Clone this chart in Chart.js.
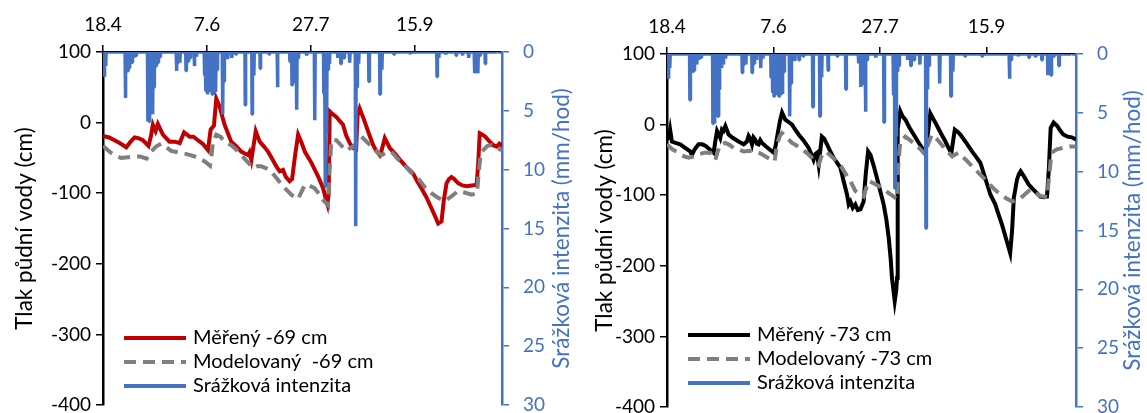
<!DOCTYPE html>
<html>
<head>
<meta charset="utf-8">
<script src="https://cdn.jsdelivr.net/npm/chart.js@4.4.0/dist/chart.umd.min.js"></script>
<style>
  body { margin: 0; background: #fff; }
  #wrap { position: relative; width: 1147px; height: 413px; }
  .panel { position: absolute; top: 0; height: 413px; }
</style>
</head>
<body>
<div id="wrap">
  <div class="panel" style="left:0;width:580px"><canvas id="chartLeft"></canvas></div>
  <div class="panel" style="left:580px;width:567px"><canvas id="chartRight"></canvas></div>
</div>
<script>
// days since 18.4., tick labels on the top axis
var xMax = 192;
var xTickDays = [0, 50, 100, 150];
var xTickLabels = ["18.4", "7.6", "27.7", "15.9"];

// precipitation intensity (mm/hod), same for both panels
var rainDays = [0.7, 1.3, 10.8, 12, 12.8, 14, 14.8, 16, 21.6, 22.3, 23.2, 23.9, 24.6, 25.6, 26.5, 27.5,
  35.4, 36.1, 37, 40, 41, 42, 44, 45, 48.9, 49.6, 50.3, 51, 51.8, 52.6, 53.4, 54.2, 55, 57.6, 58.3, 60, 62, 64,
  68.5, 71.8, 72.6, 75.7, 80, 84, 90, 91, 92, 93.2, 94, 98, 101.9, 106.3, 107, 107.6, 108.3, 109,
  113, 114.5, 116, 118.7, 121.6, 122.3, 123, 128, 133.3, 134.2, 140, 148, 150,
  160.8, 161.6, 165, 170, 173, 176, 178.8, 179.6, 180.4, 181.5, 184, 190];
var rainMm = [2.1, 1.2, 3.9, 1.6, 1.4, 0.9, 0.5, 0.3, 5.9, 5.9, 4.5, 5.3, 3.0, 1.2, 0.9, 0.4,
  1.6, 0.9, 0.9, 1.6, 0.8, 0.5, 1.2, 0.4, 2.0, 3.3, 3.6, 3.0, 3.4, 3.6, 3.5, 3.4, 1.5, 5.3, 2.5, 0.6, 0.5, 0.2,
  4.5, 5.3, 2.0, 1.4, 0.2, 3.0, 0.8, 2.8, 2.5, 4.9, 0.5, 0.3, 5.8, 3.5, 11.4, 7.0, 1.5, 1.0,
  0.5, 1.0, 0.5, 0.9, 14.8, 3.0, 1.0, 2.5, 3.6, 1.5, 0.2, 0.2, 0.1,
  2.1, 0.5, 0.2, 0.3, 0.3, 0.5, 1.8, 1.7, 1.8, 0.3, 1.0];

// soil water pressure (cm), depth -69 cm: [day, value]
var measured69 = [[0,-19],[3,-21],[5.5,-25],[8,-29],[11.2,-35],[13,-28],[15.2,-21],[17,-22],[19.2,-25],[21.9,-33],
  [23,-20],[24,-3],[25.3,-12],[26.4,-2],[28.8,-17],[32,-27],[34.5,-27],[36.9,-29],[39,-14],[41.7,-20],[43.5,-20],
  [45.7,-25],[48,-30],[50.5,-39],[51.8,-10],[53.4,-4],[54.5,34],[56.1,23],[58.5,-3],[61.7,-27],[64,-33],[66.5,-41],
  [68.5,-44],[69.8,-46],[70.5,-42],[71.4,-53],[73.5,-12],[75.4,-27],[77.5,-34],[79.4,-41],[81.5,-52],[83.4,-62],
  [85,-69],[86.6,-67],[88,-77],[89.8,-83],[91,-80],[92.5,-45],[93.9,-17],[95.5,-28],[97.1,-41],[100.3,-57],
  [103.5,-76],[105.9,-93],[107.5,-111],[108,-116],[108.6,-100],[109.1,16],[110.5,12],[112.3,8],[114,2],[115.5,-3],
  [117,-18],[118.7,-29],[120.3,-36],[121.8,-38],[122.5,10],[123.5,20],[125.5,5],[126.8,-6],[128.5,-20],[130,-32],
  [131.5,-40],[133.2,-46],[134,-40],[135.6,-22],[138,-36],[140.5,-44],[143.6,-55],[146,-63],[149.2,-72],[151,-82],
  [153.2,-93],[155.5,-105],[158,-121],[160,-134],[161.3,-143],[162.9,-140],[164,-110],[165.3,-86],[166.5,-80],
  [167.7,-77],[169,-80],[171,-86],[173,-89],[175,-90],[177.5,-89],[179.8,-88],[180.5,-60],[181.3,-15],[182.6,-17],
  [184,-20],[185.4,-25],[187.8,-32],[189.4,-34],[190.7,-30],[192,-33]];
var modeled69 = [[0,-33],[2,-38],[3.9,-43],[6,-47],[8.7,-50],[12,-49],[15.2,-48],[18,-48],[21,-51],[22,-47],
  [23.2,-41],[25.5,-34],[28,-30],[30.5,-35],[32.8,-40],[36,-42],[39.3,-44],[42,-46],[44.1,-48],[47,-52],[49,-55],
  [51.5,-61],[52.3,-45],[52.9,-27],[54.5,-17],[56.5,-20],[58.5,-27],[61.7,-32],[64,-38],[66.5,-46],[69,-54],
  [72.1,-64],[74,-62],[76.2,-62],[78,-64],[80.2,-67],[82.5,-75],[85,-84],[88.2,-95],[91,-103],[93.9,-108],
  [95.5,-98],[97.1,-88],[99,-89],[101.9,-93],[104,-101],[106,-110],[108.3,-117],[108.8,-80],[109.9,-25],
  [112.3,-25],[114.5,-32],[117.2,-40],[119,-36],[121,-33],[122.5,-25],[124.4,-20],[126.5,-26],[130,-36],
  [132,-42],[134,-46],[136,-43],[138.8,-41],[142,-52],[145.2,-60],[148,-70],[151.6,-79],[155,-92],[158,-100],
  [161,-106],[164.5,-111],[167,-106],[170.9,-97],[174,-99],[177.4,-102],[180,-100],[180.8,-70],[181.8,-44],
  [183,-39],[185,-33],[187,-32],[189.5,-36],[192,-39]];

// depth -73 cm
var measured73 = [[0,-21],[1,-18],[1.5,-8],[2.3,-24],[4,-26],[6.2,-28],[8.5,-33],[10.9,-38],[11.7,-43],[13,-35],
  [14.8,-28],[16.5,-28],[18,-30],[20,-35],[21.9,-40],[22.6,-25],[23.5,-9],[24.3,-14],[25,-19],[25.8,-7],[26.5,-9],
  [27.4,-2],[28.9,-14],[31,-19],[33.6,-24],[36,-28],[37.5,-24],[38.3,-16],[39.1,-20],[39.9,-28],[40.6,-18],
  [41.4,-21],[42.2,-27],[43,-28],[43.8,-22],[44.6,-26],[46.5,-31],[48.5,-36],[50.1,-40],[51,-30],[51.6,-19],
  [53,5],[54,17],[55.5,7],[57,4],[58.7,0],[60.2,-7],[61.8,-14],[64,-22],[66.5,-33],[67.5,-40],[68.8,-50],
  [69.6,-42],[70.4,-40],[71.2,-57],[72.7,-17],[73.8,-20],[75.1,-28],[76.5,-37],[78.2,-47],[79.8,-54],[81.4,-61],
  [82.9,-80],[84.5,-99],[85.3,-113],[86.1,-109],[87.2,-118],[88.4,-113],[89.6,-121],[90.8,-120],[92.3,-109],
  [93.3,-70],[94.4,-38],[95.5,-43],[97,-58],[98.6,-76],[100.2,-95],[101.7,-113],[103,-135],[104.1,-161],
  [105,-190],[105.6,-217],[106.9,-250],[107.6,-235],[108,-217],[108.2,-100],[108.4,-5],[109.5,19],[110.5,12],
  [111.9,7],[113.8,-4],[115.8,-14],[117.8,-24],[119.7,-33],[121.3,-38],[122.2,-20],[123.6,16],[125.2,7],
  [126.8,-2],[128.7,-13],[130.7,-24],[132,-32],[133.5,-40],[135.1,-7],[136.4,-10],[137.7,-14],[140.5,-26],
  [143.2,-38],[145.2,-46],[147.1,-54],[149.4,-76],[151.8,-99],[154.1,-113],[155.7,-128],[157.3,-142],
  [159.2,-162],[161.1,-182],[162,-150],[162.8,-104],[164.3,-78],[165.2,-70],[166,-66],[167.5,-73],[169.8,-85],
  [172,-92],[175.3,-102],[177,-103],[178.4,-102],[179.3,-60],[180.1,-5],[181.5,3],[183.2,-2],[184.5,-8],
  [186,-14],[188,-17],[190,-18],[192,-21]];
var modeled73 = [[0,-28],[2.5,-35],[5.5,-40],[8,-45],[10.2,-47],[12.5,-45],[14.8,-42],[17.5,-40],[20.3,-40],
  [22.7,-50],[23.8,-38],[25,-28],[27.4,-26],[29.5,-29],[31.3,-33],[34,-36],[36,-38],[39,-37],[41.4,-38],[44,-41],
  [46.1,-45],[48.5,-49],[50.5,-52],[51.6,-28],[53,-16],[54,-12],[56,-18],[58.7,-26],[61,-30],[63.4,-35],[66,-41],
  [68,-47],[70,-53],[71.2,-57],[72.5,-45],[74.3,-38],[76.5,-43],[79,-50],[81.5,-58],[83.7,-69],[86.1,-80],
  [88.4,-94],[90.5,-99],[92.3,-102],[93.5,-90],[94.7,-80],[97,-83],[99.4,-87],[102,-92],[104.1,-97],[106,-101],
  [108,-106],[108.5,-60],[109.5,-24],[111.9,-17],[114,-22],[116.6,-28],[119,-35],[121.3,-43],[122.5,-28],
  [124.4,-14],[126.5,-20],[128.3,-26],[131,-36],[133.8,-45],[136.9,-40],[140,-49],[143.2,-59],[146.5,-69],
  [149.4,-78],[152.5,-88],[155.7,-97],[159,-104],[162,-109],[164,-107],[166,-104],[168.3,-98],[170.6,-92],
  [173,-97],[175.3,-101],[178.4,-103],[179.3,-75],[180.5,-40],[183,-35],[186,-33],[189,-31],[192,-31]];

var BLUE = '#4472C4';
var GRAY = '#7F7F7F';
var FONT = 'Lato';

function toPoints(pairs) {
  return pairs.map(function (p) { return { x: p[0], y: p[1] }; });
}

// each rain value becomes a narrow spike hanging from the zero line
function rainPoints() {
  var pts = [{ x: 0, y: 0 }];
  rainDays.forEach(function (d, i) {
    pts.push({ x: d - 0.2, y: 0 }, { x: d - 0.05, y: rainMm[i] }, { x: d + 0.05, y: rainMm[i] }, { x: d + 0.2, y: 0 });
  });
  pts.push({ x: xMax, y: 0 });
  return pts;
}

// legend inside the plot and the right-hand axis title (reads bottom to top)
var panelDecor = {
  id: 'panelDecor',
  afterDraw: function (chart, args, o) {
    var ctx = chart.ctx;
    var area = chart.chartArea;
    ctx.save();
    ctx.font = '20px ' + FONT;
    ctx.textBaseline = 'middle';
    o.items.forEach(function (item, i) {
      var y = o.legendY + i * o.rowGap;
      ctx.beginPath();
      ctx.setLineDash(item.dash || []);
      ctx.strokeStyle = item.color;
      ctx.lineWidth = 4;
      ctx.moveTo(o.lineX1, y);
      ctx.lineTo(o.lineX2, y);
      ctx.stroke();
      ctx.setLineDash([]);
      ctx.fillStyle = '#000';
      ctx.fillText(item.label, o.textX, y);
    });
    ctx.translate(o.titleX, (area.top + area.bottom) / 2);
    ctx.rotate(-Math.PI / 2);
    ctx.textAlign = 'center';
    ctx.fillStyle = BLUE;
    ctx.font = '22.5px ' + FONT;
    ctx.fillText('Srážková intenzita (mm/hod)', 0, 0);
    ctx.restore();
  }
};

function makePanel(canvasId, measured, modeled, measColor, g) {
  var dash = [12, 7];
  var config = {
    type: 'line',
    data: {
      datasets: [
        { label: g.names[0], data: toPoints(measured), borderColor: measColor, borderWidth: 4,
          pointRadius: 0, tension: 0, yAxisID: 'y', order: 2 },
        { label: g.names[1], data: toPoints(modeled), borderColor: GRAY, borderWidth: 4, borderDash: dash,
          pointRadius: 0, tension: 0, yAxisID: 'y', order: 1 },
        { label: g.names[2], data: rainPoints(), borderColor: BLUE, borderWidth: 3.5,
          pointRadius: 0, tension: 0, yAxisID: 'y2', order: 0, borderJoinStyle: 'bevel' }
      ]
    },
    options: {
      responsive: true,
      maintainAspectRatio: false,
      animation: false,
      layout: { padding: { left: 0, right: 0, top: 0, bottom: g.bottom } },
      plugins: {
        legend: { display: false },
        tooltip: { enabled: false },
        panelDecor: {
          items: [
            { label: g.names[0], color: measColor },
            { label: g.names[1], color: GRAY, dash: dash },
            { label: g.names[2], color: BLUE }
          ],
          lineX1: g.legend[0], lineX2: g.legend[1], textX: g.legend[2],
          legendY: g.legend[3], rowGap: 24, titleX: g.titleX
        }
      },
      scales: {
        x: {
          type: 'linear', position: 'top', min: 0, max: xMax,
          afterBuildTicks: function (s) { s.ticks = xTickDays.map(function (v) { return { value: v }; }); },
          ticks: {
            color: '#000', font: { family: FONT, size: 19 }, padding: 9, maxRotation: 0,
            callback: function (v) { return xTickLabels[xTickDays.indexOf(v)]; }
          },
          grid: { drawOnChartArea: false, tickLength: 7, color: '#000', lineWidth: 1.5 },
          border: { color: '#000', width: 1.5 },
          afterFit: function (s) { s.height = g.top; s.paddingLeft = 0; s.paddingRight = 0; }
        },
        y: {
          position: 'left', min: -400, max: 100,
          ticks: { stepSize: 100, color: '#000', font: { family: FONT, size: 19 }, padding: 5 },
          grid: { drawOnChartArea: false, tickLength: 7, color: '#000', lineWidth: 1.5 },
          border: { color: '#000', width: 2.5 },
          title: { display: true, text: 'Tlak půdní vody (cm)', color: '#000',
                   font: { family: FONT, size: 22.5 }, padding: { top: 11, bottom: 0 } },
          afterFit: function (s) { s.width = g.left; s.paddingTop = 0; s.paddingBottom = 0; }
        },
        y2: {
          position: 'right', reverse: true, min: 0, max: 30,
          ticks: { stepSize: 5, color: BLUE, font: { family: FONT, size: 19 }, padding: 14 },
          grid: { drawOnChartArea: false, tickLength: 7, color: BLUE, lineWidth: 1.5 },
          border: { color: BLUE, width: 2.5 },
          afterFit: function (s) { s.width = g.right; s.paddingTop = 0; s.paddingBottom = 0; }
        }
      }
    },
    plugins: [panelDecor]
  };
  return new Chart(document.getElementById(canvasId), config);
}

makePanel('chartLeft', measured69, modeled69, '#C00000', {
  names: ['Měřený -69 cm', 'Modelovaný  -69 cm', 'Srážková intenzita'],
  left: 103, right: 78, top: 52, bottom: 8,
  legend: [124, 186, 193, 338], titleX: 562
});
makePanel('chartRight', measured73, modeled73, '#000000', {
  names: ['Měřený -73 cm', 'Modelovaný -73 cm', 'Srážková intenzita'],
  left: 87, right: 71, top: 54, bottom: 6,
  legend: [108, 170, 177, 335], titleX: 553
});
</script>
</body>
</html>
